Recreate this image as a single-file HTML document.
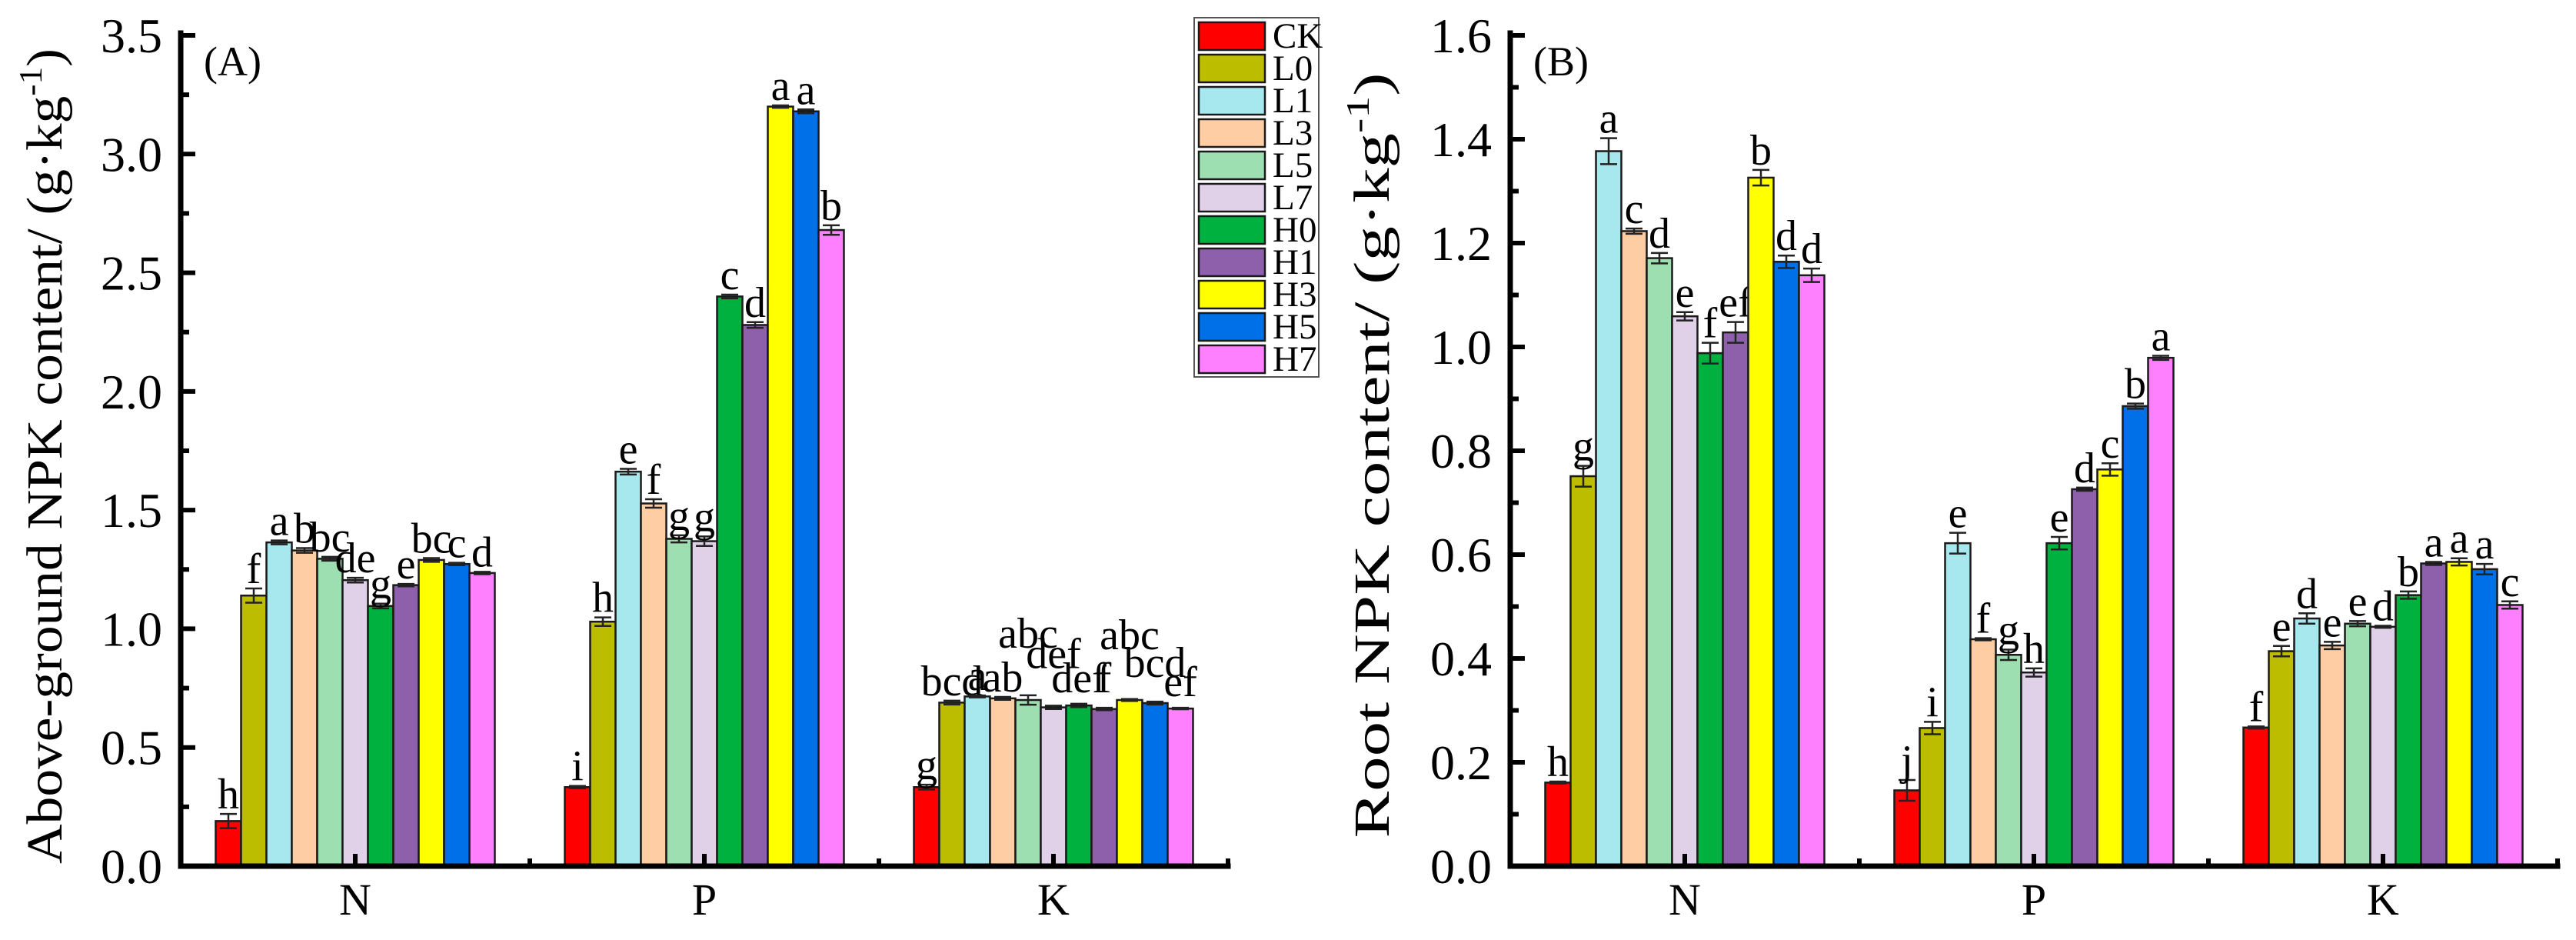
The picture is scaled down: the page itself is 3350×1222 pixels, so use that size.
<!DOCTYPE html>
<html><head><meta charset="utf-8"><title>NPK content</title>
<style>html,body{margin:0;padding:0;background:#fff;}svg{display:block;}</style></head>
<body>
<svg id="chart" width="3350" height="1222" viewBox="0 0 3350 1222" xmlns="http://www.w3.org/2000/svg" font-family="'Liberation Serif', serif"></svg>
<script>
const categories = ["N","P","K"];
const treatments = ["CK","L0","L1","L3","L5","L7","H0","H1","H3","H5","H7"];
const colors = ["#ff0000","#bdbd00","#a6e8ee","#ffcda4","#9ddfb1","#e0d0e8","#00b140","#8e60ab","#ffff00","#0070e8","#ff80ff"];
// Panel A: above-ground
const aN = [0.19,1.14,1.364,1.33,1.295,1.205,1.096,1.184,1.29,1.273,1.235];
const aP = [0.333,1.03,1.662,1.528,1.379,1.369,2.40,2.28,3.20,3.18,2.68];
const aK = [0.333,0.689,0.715,0.707,0.70,0.669,0.677,0.662,0.70,0.687,0.664];
const aNerr = [0.03,0.03,0.008,0.01,0.008,0.01,0.01,0.005,0.008,0.005,0.005];
const aPerr = [0.005,0.018,0.012,0.018,0.015,0.02,0.008,0.012,0.005,0.008,0.02];
const aKerr = [0.01,0.008,0.004,0.006,0.02,0.007,0.007,0.005,0.004,0.006,0.003];
const aNlet = ["h","f","a","b","bc","de","g","e","bc","c","d"];
const aPlet = ["i","h","e","f","g","g","c","d","a","a","b"];
const aKlet = ["g","bcd","a","ab","abc","def","def","f","abc","bcd","ef"];
// Panel B: root
const bN = [0.161,0.751,1.377,1.223,1.171,1.059,0.988,1.028,1.326,1.164,1.138];
const bP = [0.146,0.266,0.622,0.437,0.407,0.373,0.622,0.726,0.764,0.886,0.979];
const bK = [0.267,0.414,0.477,0.425,0.467,0.461,0.522,0.583,0.586,0.572,0.503];
const bNerr = [0.002,0.02,0.025,0.005,0.01,0.008,0.02,0.02,0.015,0.012,0.013];
const bPerr = [0.02,0.012,0.02,0.002,0.01,0.008,0.012,0.003,0.012,0.005,0.004];
const bKerr = [0.002,0.01,0.01,0.007,0.005,0.002,0.007,0.003,0.007,0.01,0.007];
const bNlet = ["h","g","a","c","d","e","f","ef","b","d","d"];
const bPlet = ["j","i","e","f","g","h","e","d","c","b","a"];
const bKlet = ["f","e","d","e","e","d","b","a","a","a","c"];
const aTicks = ["0.0","0.5","1.0","1.5","2.0","2.5","3.0","3.5"];
const bTicks = ["0.0","0.2","0.4","0.6","0.8","1.0","1.2","1.4","1.6"];

const svg = document.getElementById('chart');
const NS = "http://www.w3.org/2000/svg";
function mk(tag, attrs, parent){const e=document.createElementNS(NS,tag);for(const k in attrs)e.setAttribute(k,attrs[k]);(parent||svg).appendChild(e);return e;}

const Y0 = 1126, YTOP = 46, GW = 454, BW = 33;
const liftA = {K:[0,0,0,0,55,42,8,13,58,25,8]};

function panel(id, left, ymax, majorStep, ticks, series, errs, lets, tag, lifts){
  const g = mk('g',{});
  
  
  const yS = v => Y0 - v/ymax*(Y0-YTOP);
  const xC = i => left + GW*(i+0.5);
  series.forEach((vals, ci) => {
    vals.forEach((v, ti) => {
      const x = xC(ci) - BW*treatments.length/2 + ti*BW;
      const r = mk('rect',{x:x, y:yS(v), width:BW, height:Y0-yS(v), fill:colors[ti], stroke:'#1a1a1a','stroke-width':2.5}, g);
      
      
      const e = errs[ci][ti], cx = x+BW/2;
      const eb = mk('path',{d:`M${cx-11},${yS(v+e)}H${cx+11}M${cx},${yS(v+e)}V${yS(v-e)}M${cx-11},${yS(v-e)}H${cx+11}`, stroke:'#222','stroke-width':2.5, fill:'none'}, g);
      
      
      const lf = (lifts && lifts[categories[ci]]) ? lifts[categories[ci]][ti] : 0;
      const t = mk('text',{x:cx, y:yS(v+e)-7-lf, 'font-size':56, 'text-anchor':'middle', fill:'#000'}, g);
      t.textContent = lets[ci][ti];
      
      
    });
  });
  const right = left + GW*3;
  const ax = mk('path',{d:`M${left},${YTOP-3}V${Y0}H${right}`, stroke:'#000','stroke-width':7, fill:'none','stroke-linecap':'square'}, g);
  
  
  const nMaj = ticks.length;
  for(let i=0;i<nMaj;i++){
    const v = i*majorStep, y = yS(v);
    mk('line',{x1:left, x2:left+19, y1:y, y2:y, stroke:'#000','stroke-width':6}, g);
    if(i<nMaj-1){const ym=yS(v+majorStep/2); mk('line',{x1:left, x2:left+11, y1:ym, y2:ym, stroke:'#000','stroke-width':6}, g);}
    const t = mk('text',{x:left-24, y:y+22, 'font-size':64, 'text-anchor':'end'}, g);
    t.textContent = ticks[i];
    
    
  }
  categories.forEach((c,ci)=>{
    const x = xC(ci);
    mk('line',{x1:x,x2:x,y1:Y0,y2:Y0-16,stroke:'#000','stroke-width':6},g);
    const t = mk('text',{x:x, y:1189, 'font-size':58, 'text-anchor':'middle'}, g);
    t.textContent = c;
    
    
  });
  for(let k=1;k<=3;k++){const x=left+GW*k; mk('line',{x1:x,x2:x,y1:Y0,y2:Y0-10,stroke:'#000','stroke-width':6},g);}
  const pt = mk('text',{x:left+30, y:98, 'font-size':54}, g);
  pt.textContent = tag;
  
  
  return g;
}

panel('panel-a-above-ground', 235, 3.5, 0.5, aTicks, [aN,aP,aK], [aNerr,aPerr,aKerr], [aNlet,aPlet,aKlet], '(A)', liftA);
panel('panel-b-root', 1964, 1.6, 0.2, bTicks, [bN,bP,bK], [bNerr,bPerr,bKerr], [bNlet,bPlet,bKlet], '(B)', null);

function ytitle(name, cx, cy, len, main){
  const t = mk('text',{x:0,y:0,'font-size':66,'text-anchor':'middle',transform:`translate(${cx},${cy}) rotate(-90)`});
  
  
  const a = mk('tspan',{},t); a.textContent = main + ' (g·kg';
  const s = mk('tspan',{'font-size':42,dy:-26},t); s.textContent = '-1';
  const c = mk('tspan',{dy:26},t); c.textContent = ')';
  t.setAttribute('textLength', len);
  t.setAttribute('lengthAdjust', 'spacingAndGlyphs');
}
ytitle('y-axis-title-a', 80, 593, 1060, 'Above-ground NPK content/');
ytitle('y-axis-title-b', 1806, 592, 995, 'Root NPK content/');

const lg = mk('g',{});


mk('rect',{x:1553,y:23,width:162,height:467,fill:'#fff',stroke:'#555','stroke-width':2},lg);
treatments.forEach((tr,i)=>{
  const y = 29 + i*42;
  const r = mk('rect',{x:1559,y:y,width:86,height:36,fill:colors[i],stroke:'#1a1a1a','stroke-width':2.5},lg);
  
  
  const t = mk('text',{x:1655,y:y+33,'font-size':47},lg);
  t.textContent = tr;
  
  
});
</script>
</body></html>
